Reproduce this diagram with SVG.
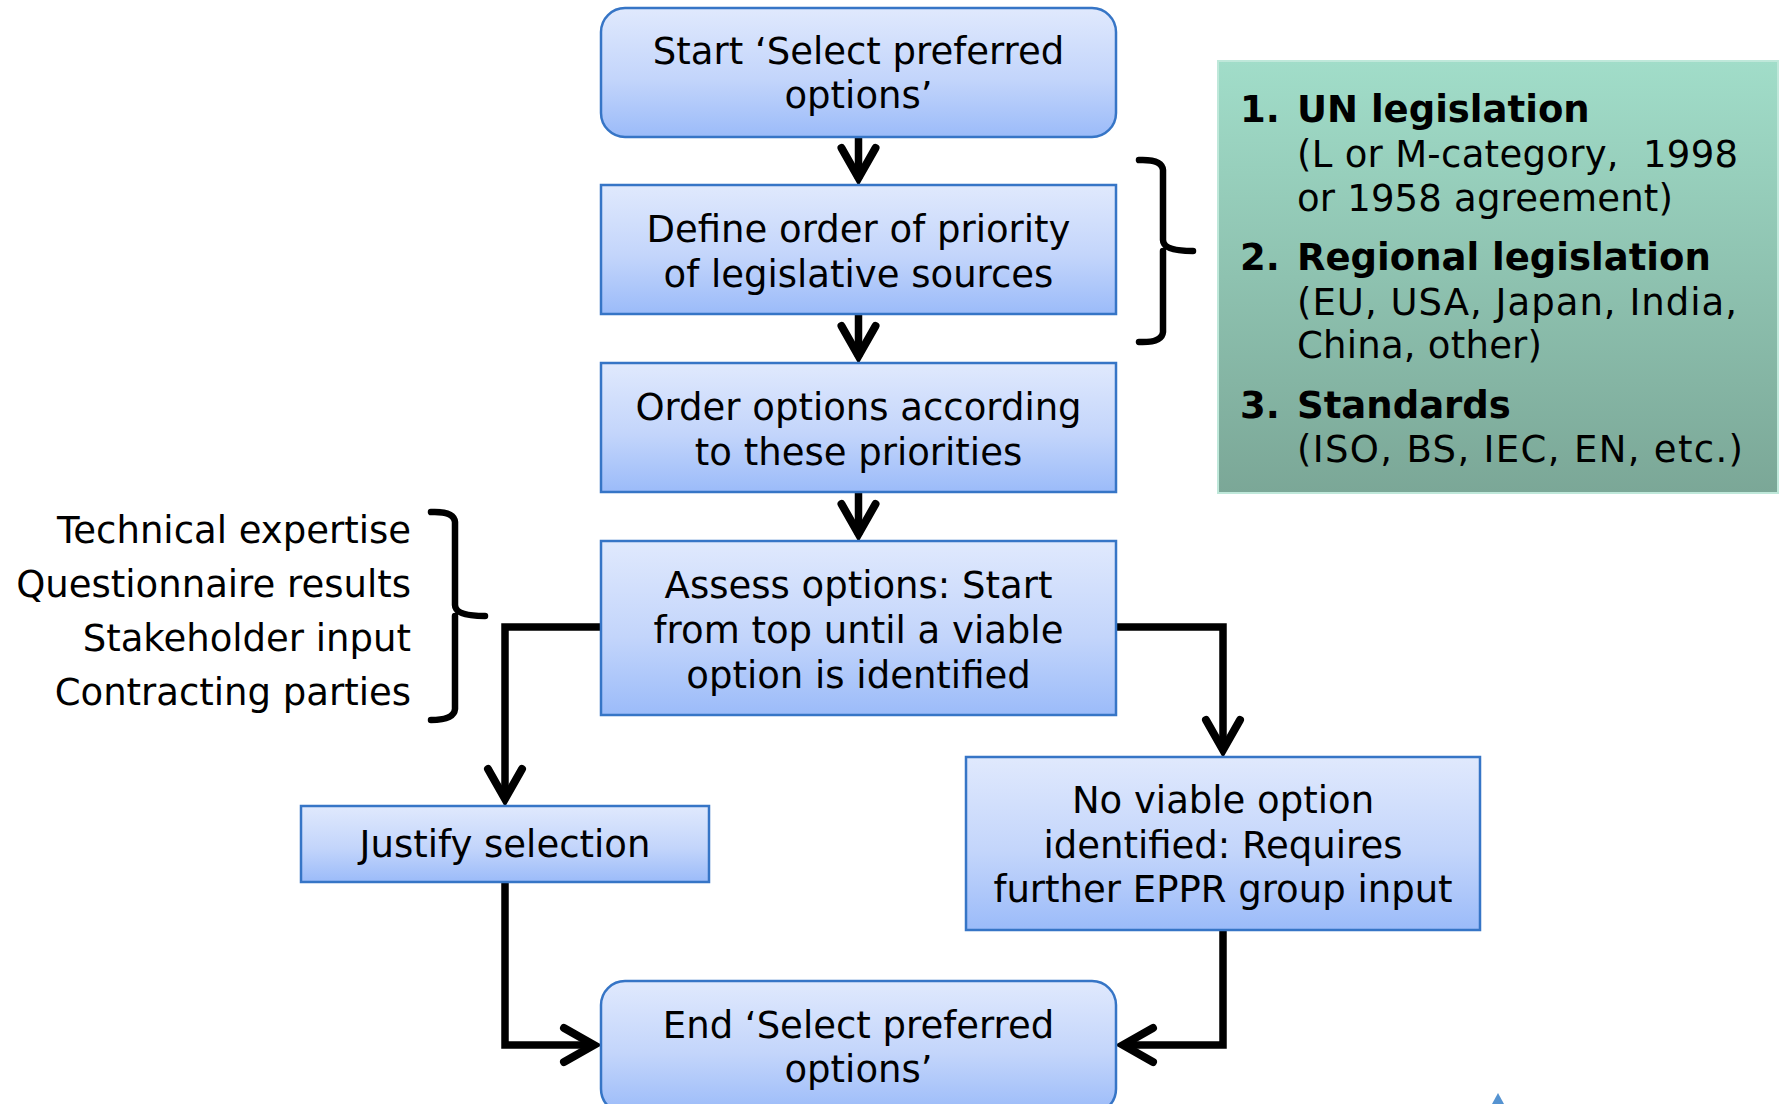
<svg xmlns="http://www.w3.org/2000/svg" width="1779" height="1104" viewBox="0 0 1779 1104">
<defs>
<linearGradient id="blue" x1="0" y1="0" x2="0" y2="1">
<stop offset="0" stop-color="#e0e9fd"/>
<stop offset="0.55" stop-color="#c3d5fb"/>
<stop offset="1" stop-color="#9bbbf9"/>
</linearGradient>
<linearGradient id="green" x1="0" y1="0" x2="0" y2="1">
<stop offset="0" stop-color="#a1ddc9"/>
<stop offset="1" stop-color="#7ba797"/>
</linearGradient>
<marker id="arr" markerUnits="userSpaceOnUse" viewBox="0 0 48 40" markerWidth="48" markerHeight="40" refX="35" refY="20" orient="auto" overflow="visible">
<path d="M4 3 L34 20 L4 37" fill="none" stroke="#000" stroke-width="8" stroke-linecap="round" stroke-linejoin="miter"/>
</marker>
<style>
.box{fill:url(#blue);stroke:#3675c6;stroke-width:2.5}
.t{font-family:"DejaVu Sans","Verdana",sans-serif;font-size:37px;fill:#000}
.c{text-anchor:middle}
.r{text-anchor:end}
.b{font-weight:bold}
.ln{fill:none;stroke:#000;stroke-width:7.5}
.br{fill:none;stroke:#000;stroke-width:6.5;stroke-linecap:round;stroke-linejoin:round}
</style>
</defs>
<rect width="1779" height="1104" fill="#fff"/>

<g id="connectors">
<line class="ln" x1="858.5" y1="137" x2="858.5" y2="179" marker-end="url(#arr)"/>
<line class="ln" x1="858.5" y1="314" x2="858.5" y2="357" marker-end="url(#arr)"/>
<line class="ln" x1="858.5" y1="492" x2="858.5" y2="535" marker-end="url(#arr)"/>
<polyline class="ln" points="601,627 505,627 505,800" marker-end="url(#arr)"/>
<polyline class="ln" points="1116,627 1223,627 1223,751" marker-end="url(#arr)"/>
<polyline class="ln" points="505,882 505,1045 595,1045" marker-end="url(#arr)"/>
<polyline class="ln" points="1223,930 1223,1045 1122,1045" marker-end="url(#arr)"/>
</g>

<g id="start">
<rect class="box" x="601" y="8" width="515" height="129" rx="24"/>
<text class="t c" x="858.5" y="64">Start ‘Select preferred</text>
<text class="t c" x="858.5" y="108">options’</text>
</g>

<g id="define">
<rect class="box" x="601" y="185" width="515" height="129"/>
<text class="t c" x="858.5" y="242">Define order of priority</text>
<text class="t c" x="858.5" y="287">of legislative sources</text>
</g>

<g id="order">
<rect class="box" x="601" y="363" width="515" height="129"/>
<text class="t c" x="858.5" y="420">Order options according</text>
<text class="t c" x="858.5" y="465">to these priorities</text>
</g>

<g id="assess">
<rect class="box" x="601" y="541" width="515" height="174"/>
<text class="t c" x="858.5" y="598">Assess options: Start</text>
<text class="t c" x="858.5" y="643">from top until a viable</text>
<text class="t c" x="858.5" y="688">option is identified</text>
</g>

<g id="justify">
<rect class="box" x="301" y="806" width="408" height="76"/>
<text class="t c" x="505" y="857">Justify selection</text>
</g>

<g id="noviable">
<rect class="box" x="966" y="757" width="514" height="173"/>
<text class="t c" x="1223" y="813">No viable option</text>
<text class="t c" x="1223" y="858">identified: Requires</text>
<text class="t c" x="1223" y="902">further EPPR group input</text>
</g>

<g id="end">
<rect class="box" x="601" y="981" width="515" height="132" rx="24"/>
<text class="t c" x="858.5" y="1038">End ‘Select preferred</text>
<text class="t c" x="858.5" y="1082">options’</text>
</g>

<g id="sources">
<rect x="1218" y="61" width="560" height="432" fill="url(#green)" stroke="#bfe8da" stroke-width="2"/>
<text class="t b" x="1240" y="122">1.</text>
<text class="t b" x="1297" y="122">UN legislation</text>
<text class="t" x="1297" y="167" textLength="441" lengthAdjust="spacing">(L or M-category,&#160; 1998</text>
<text class="t" x="1297" y="211" textLength="376" lengthAdjust="spacing">or 1958 agreement)</text>
<text class="t b" x="1240" y="270">2.</text>
<text class="t b" x="1297" y="270">Regional legislation</text>
<text class="t" x="1297" y="315" textLength="440" lengthAdjust="spacing">(EU, USA, Japan, India,</text>
<text class="t" x="1297" y="358" textLength="245" lengthAdjust="spacing">China, other)</text>
<text class="t b" x="1240" y="418">3.</text>
<text class="t b" x="1297" y="418">Standards</text>
<text class="t" x="1297" y="462" textLength="446" lengthAdjust="spacing">(ISO, BS, IEC, EN, etc.)</text>
</g>

<g id="bracket-right">
<path class="br" d="M1139 160 Q1162 159 1163 170 L1163 240 Q1163 251 1193 251 M1163 251 L1163 332 Q1162 343 1139 342"/>
</g>

<g id="inputs">
<text class="t r" x="411" y="543">Technical expertise</text>
<text class="t r" x="411" y="597">Questionnaire results</text>
<text class="t r" x="411" y="651">Stakeholder input</text>
<text class="t r" x="411" y="705">Contracting parties</text>
</g>

<g id="bracket-left">
<path class="br" d="M431 512 Q454 511 455 522 L455 605 Q455 616 485 616 M455 616 L455 709 Q454 720 431 720"/>
</g>

<path d="M1498 1093 L1492 1104 L1504 1104 Z" fill="#2a78c6" opacity="0.8"/>
</svg>
